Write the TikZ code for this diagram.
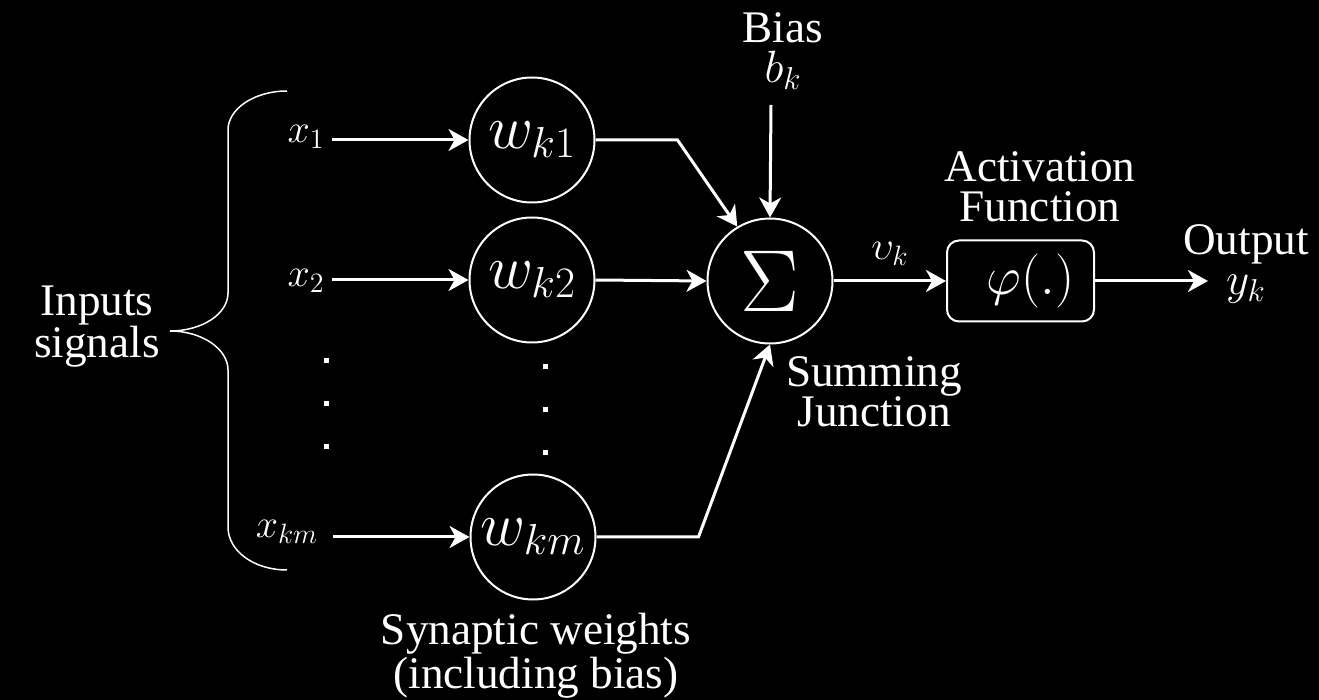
\documentclass[tikz,border=0pt]{standalone}
\usepackage{fix-cm}
\usepackage{fontspec}
\setmainfont{Liberation Serif}
\usetikzlibrary{arrows.meta,positioning}

\begin{document}
\begin{tikzpicture}[
  x=0.5pt, y=-0.5pt,
  every node/.style={text=white},
  lbl/.style={font=\fontsize{22.6}{20}\selectfont, align=center, anchor=base, inner sep=0pt},
  var/.style={font=\fontsize{20}{20}\selectfont, anchor=base},
  weight/.style={circle, draw=white, line width=1pt, minimum size=62.5pt, inner sep=0pt, font=\fontsize{31}{31}\selectfont},
  actbox/.style={draw=white, line width=1pt, rounded corners=6pt, rectangle, minimum width=73.5pt, minimum height=40.5pt, font=\fontsize{27}{27}\selectfont},
  arr/.style={-{Stealth[length=10pt, width=11pt, inset=3pt]}, line width=1.5pt, white},
  bracestyle/.style={white, line width=0.75pt}
]
\path[use as bounding box, fill=black] (0,0) rectangle (1319,700);

\node[weight] (w1) at (532,140) {$w_{k1}$};
\node[weight] (w2) at (532,280) {$w_{k2}$};
\node[weight] (wm) at (533,537) {$w_{km}$};
\node[weight, font=\fontsize{44}{44}\selectfont] (sum) at (770,281) {$\Sigma$};
\node[actbox] (act) at (1020.5,281) {\hspace{10pt}$\varphi(.)$};

\node[var] (x1) at (306,143) {$x_1$};
\node[var] (x2) at (306,287) {$x_2$};
\node[var] (xm) at (287,538) {$x_{km}$};
\node[var] (vk) at (890,260) {$\upsilon_k$};

\node[lbl] (inputs) at (97,358) {Inputs\\signals};
\node[lbl] (bias) at (783,83) {Bias\\$b_k$};
\node[lbl] (actlbl) at (1040,222) {Activation\\Function};
\node[lbl] (output) at (1246,295) {Output\\$y_k$};
\node[lbl] (summing) at (874,427) {Summing\\Junction};
\node[lbl] (synaptic) at (536,688) {Synaptic weights\\(including bias)};

\coordinate (biastop) at (771,105);
\coordinate (outend) at (1208,281);

\draw[arr] (x1.east |- w1.west) -- (w1.west);
\draw[arr] (x2.east |- w2.west) -- (w2.west);
\draw[arr] ([xshift=4pt]xm.east |- wm.west) -- (wm.west);
\draw[arr] (w1.east) -- ++(82,0) -- (sum.121);
\draw[arr] (w2.east) -- (sum.west);
\draw[arr] (wm.east) -- ++(102,0) -- (sum.south);
\draw[arr] (biastop) -- (sum.north);
\draw[arr] (sum.east) -- (act.west);
\draw[arr] (act.east) -- (outend);

\draw[bracestyle] (287,91) .. controls (254,91) and (228,109) .. (228,130) -- (228,293)
  .. controls (228,314) and (202,331) .. (170,331)
  .. controls (202,331) and (228,349) .. (228,370) -- (228,527)
  .. controls (228,551) and (254,570) .. (287,570);

\foreach \yy in {361,404,447}
  \fill[white] (326,\yy) +(-2.5,-2.5) rectangle +(2.5,2.5);
\foreach \yy in {367,410,453}
  \fill[white] (545,\yy) +(-2.5,-2.5) rectangle +(2.5,2.5);
\end{tikzpicture}
\end{document}
